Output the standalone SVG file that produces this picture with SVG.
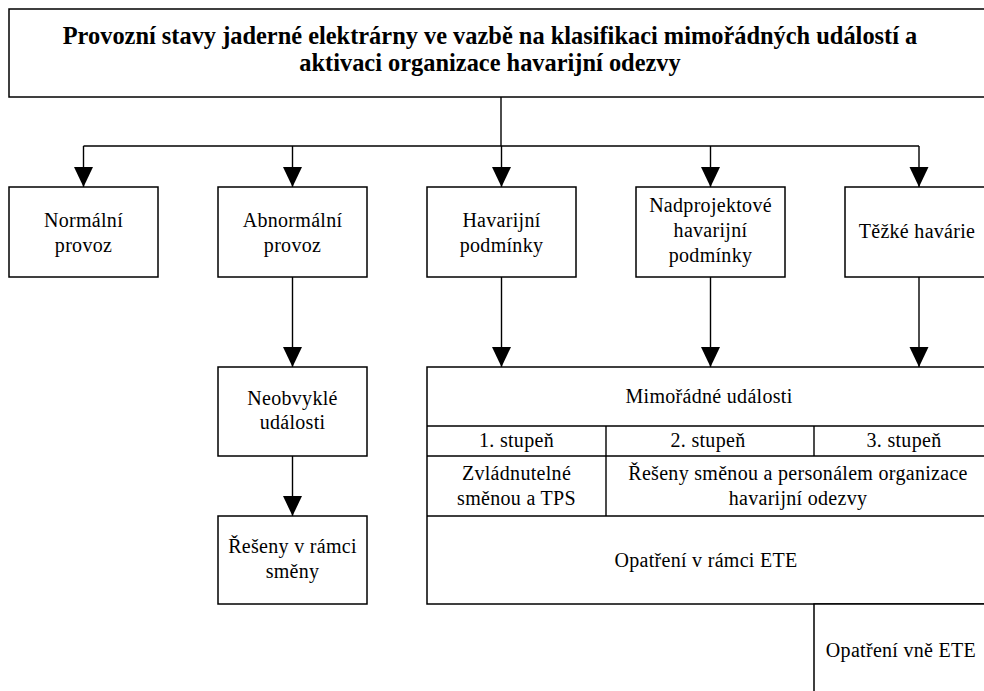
<svg xmlns="http://www.w3.org/2000/svg" width="984" height="691" viewBox="0 0 984 691">
<style>
  .box { fill: #fff; stroke: #000; stroke-width: 1.5; }
  .ln { fill: none; stroke: #000; stroke-width: 1.4; }
  .t { font-family: "Liberation Serif", "Times New Roman", serif; font-size: 20px; fill: #000; text-anchor: middle; letter-spacing: 0.3px; }
  .tb { font-family: "Liberation Serif", "Times New Roman", serif; font-size: 24.4px; font-weight: bold; fill: #000; text-anchor: middle; }
</style>
<defs>
  <marker id="arr" markerUnits="userSpaceOnUse" markerWidth="20" markerHeight="20" refX="20" refY="9.5" orient="auto">
    <path d="M0,0 L20,9.5 L0,19 Z" fill="#000"/>
  </marker>
</defs>
<rect width="984" height="691" fill="#fff"/>

<g id="title">
  <rect class="box" x="9" y="9" width="990" height="88"/>
  <text class="tb" x="490" y="44">Provozní stavy jaderné elektrárny ve vazbě na klasifikaci mimořádných událostí a</text>
  <text class="tb" x="490" y="71">aktivaci organizace havarijní odezvy</text>
</g>

<g id="connectors">
  <path class="ln" d="M501,97 V146"/>
  <path class="ln" d="M83.5,146 H919"/>
  <path class="ln" d="M83.5,146 V187" marker-end="url(#arr)"/>
  <path class="ln" d="M292.5,146 V187" marker-end="url(#arr)"/>
  <path class="ln" d="M501.5,146 V187" marker-end="url(#arr)"/>
  <path class="ln" d="M710.5,146 V187" marker-end="url(#arr)"/>
  <path class="ln" d="M919,146 V187" marker-end="url(#arr)"/>
  <path class="ln" d="M292.5,277 V367" marker-end="url(#arr)"/>
  <path class="ln" d="M292.5,456 V516" marker-end="url(#arr)"/>
  <path class="ln" d="M501.5,277 V367" marker-end="url(#arr)"/>
  <path class="ln" d="M710.5,277 V367" marker-end="url(#arr)"/>
  <path class="ln" d="M919,277 V367" marker-end="url(#arr)"/>
</g>

<g id="normalni">
  <rect class="box" x="9" y="187" width="149" height="90"/>
  <text class="t" x="83.5" y="227">Normální</text>
  <text class="t" x="83.5" y="252">provoz</text>
</g>
<g id="abnormalni">
  <rect class="box" x="218" y="187" width="149" height="90"/>
  <text class="t" x="292.5" y="227">Abnormální</text>
  <text class="t" x="292.5" y="252">provoz</text>
</g>
<g id="havarijni">
  <rect class="box" x="427" y="187" width="149" height="90"/>
  <text class="t" x="501.5" y="227">Havarijní</text>
  <text class="t" x="501.5" y="252">podmínky</text>
</g>
<g id="nadprojektove">
  <rect class="box" x="636" y="187" width="149" height="90"/>
  <text class="t" x="710.5" y="212">Nadprojektové</text>
  <text class="t" x="710.5" y="237">havarijní</text>
  <text class="t" x="710.5" y="262">podmínky</text>
</g>
<g id="tezke">
  <rect class="box" x="845" y="187" width="149" height="90"/>
  <text class="t" x="917" y="238">Těžké havárie</text>
</g>

<g id="neobvykle">
  <rect class="box" x="218" y="367" width="149" height="89"/>
  <text class="t" x="292.5" y="405">Neobvyklé</text>
  <text class="t" x="292.5" y="429">události</text>
</g>
<g id="reseny">
  <rect class="box" x="218" y="516" width="149" height="88"/>
  <text class="t" x="292.5" y="553">Řešeny v rámci</text>
  <text class="t" x="292.5" y="578">směny</text>
</g>

<g id="mimoradne">
  <rect class="box" x="427" y="367" width="567" height="237"/>
  <path class="ln" d="M427,426 H994 M427,456 H994 M427,516 H994 M606,426 V516 M814,426 V456"/>
  <text class="t" x="709" y="403">Mimořádné události</text>
  <text class="t" x="516.5" y="447">1. stupeň</text>
  <text class="t" x="708" y="447">2. stupeň</text>
  <text class="t" x="904" y="447">3. stupeň</text>
  <text class="t" x="516.5" y="480">Zvládnutelné</text>
  <text class="t" x="516.5" y="505">směnou a TPS</text>
  <text class="t" x="798" y="480">Řešeny směnou a personálem organizace</text>
  <text class="t" x="798" y="505">havarijní odezvy</text>
  <text class="t" x="706" y="567">Opatření v rámci ETE</text>
</g>

<g id="vne">
  <rect class="box" x="814" y="604" width="180" height="100"/>
  <text class="t" x="901" y="657">Opatření vně ETE</text>
</g>
</svg>
